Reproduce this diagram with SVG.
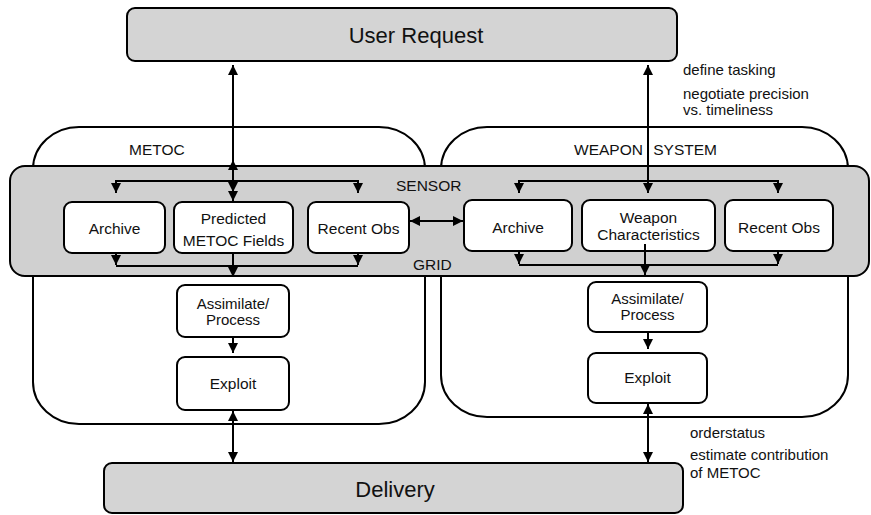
<svg xmlns="http://www.w3.org/2000/svg" width="871" height="515" viewBox="0 0 871 515">
<style>
  .big{fill:#d4d4d4;stroke:#000;stroke-width:2}
  .cont{fill:#fff;stroke:#000;stroke-width:2}
  .band{fill:#d0d0d0;stroke:#000;stroke-width:2}
  .box{fill:#fff;stroke:#000;stroke-width:2}
  text{font-family:"Liberation Sans",Arial,Helvetica,sans-serif;fill:#111}
  .t{font-size:15.5px;text-anchor:middle}
  .s{font-size:15px;text-anchor:middle}
  .l{font-size:15.5px}
  .a{font-size:15px}
  .h{font-size:22px;text-anchor:middle}
  .c line,.c polyline{stroke:#000;stroke-width:2;fill:none}
  .hd{fill:#000}
</style>
<defs>
  <marker id="ah" markerUnits="userSpaceOnUse" markerWidth="10" markerHeight="10" refX="10" refY="5" orient="auto-start-reverse" viewBox="0 0 10 10">
    <path d="M0,0 L10,5 L0,10 z" fill="#000"/>
  </marker>
</defs>

<g id="metoc-system">
  <rect class="cont" x="33" y="127" width="392" height="297" rx="46" ry="42"/>
</g>
<g id="weapon-system">
  <rect class="cont" x="441" y="127" width="407" height="290" rx="46" ry="42"/>
</g>
<g id="sensor-grid">
  <rect class="band" x="10" y="166" width="859" height="110" rx="15"/>
  <text class="l" x="396" y="191">SENSOR</text>
  <text class="l" x="413" y="270">GRID</text>
</g>
<g id="metoc-label"><text class="l" x="129" y="155">METOC</text></g>
<g id="weapon-label"><text class="l" x="574" y="155" word-spacing="6">WEAPON SYSTEM</text></g>

<g id="user-request">
  <rect class="big" x="127" y="8" width="550" height="53" rx="8"/>
  <text class="h" x="416" y="43">User Request</text>
</g>
<g id="delivery">
  <rect class="big" x="104" y="463" width="579" height="50" rx="8"/>
  <text class="h" x="395" y="497">Delivery</text>
</g>

<g id="metoc-archive">
  <rect class="box" x="64" y="202" width="101" height="51" rx="8"/>
  <text class="t" x="114.5" y="234">Archive</text>
</g>
<g id="metoc-predicted">
  <rect class="box" x="174" y="202" width="119" height="51" rx="8"/>
  <text class="t" x="233.5" y="224">Predicted</text>
  <text class="t" x="233.5" y="246">METOC Fields</text>
</g>
<g id="metoc-recent">
  <rect class="box" x="308" y="202" width="101" height="51" rx="8"/>
  <text class="t" x="358.5" y="234">Recent Obs</text>
</g>
<g id="weapon-archive">
  <rect class="box" x="464" y="200" width="108" height="51" rx="8"/>
  <text class="t" x="518" y="233">Archive</text>
</g>
<g id="weapon-characteristics">
  <rect class="box" x="582" y="200" width="133" height="51" rx="8"/>
  <text class="t" x="648.5" y="223">Weapon</text>
  <text class="t" x="648.5" y="240">Characteristics</text>
</g>
<g id="weapon-recent">
  <rect class="box" x="725" y="200" width="108" height="51" rx="8"/>
  <text class="t" x="779" y="233">Recent Obs</text>
</g>
<g id="metoc-assimilate">
  <rect class="box" x="177" y="285" width="112" height="52" rx="8"/>
  <text class="s" x="233" y="309">Assimilate/</text>
  <text class="s" x="233" y="325">Process</text>
</g>
<g id="metoc-exploit">
  <rect class="box" x="177" y="357" width="112" height="53" rx="8"/>
  <text class="t" x="233" y="389">Exploit</text>
</g>
<g id="weapon-assimilate">
  <rect class="box" x="588" y="282" width="119" height="50" rx="8"/>
  <text class="s" x="647.5" y="304">Assimilate/</text>
  <text class="s" x="647.5" y="320">Process</text>
</g>
<g id="weapon-exploit">
  <rect class="box" x="588" y="353" width="119" height="50" rx="8"/>
  <text class="t" x="647.5" y="383">Exploit</text>
</g>

<g id="annotations">
  <text class="a" x="683" y="75">define tasking</text>
  <text class="a" x="683" y="99">negotiate precision</text>
  <text class="a" x="683" y="115">vs. timeliness</text>
  <text class="a" x="690" y="438">orderstatus</text>
  <text class="a" x="690" y="460">estimate contribution</text>
  <text class="a" x="690" y="478">of METOC</text>
</g>

<g id="connectors" class="c">
  <line x1="233" y1="65" x2="233" y2="201" marker-start="url(#ah)" marker-end="url(#ah)"/>
  <path class="hd" d="M228,170 L233,160 L238,170 z"/>
  <path class="hd" d="M228,182 L233,192 L238,182 z"/>
  <polyline points="116,193 116,181 358,181 358,193" marker-start="url(#ah)" marker-end="url(#ah)"/>
  <line x1="116" y1="253" x2="116" y2="265" marker-end="url(#ah)"/>
  <line x1="358" y1="253" x2="358" y2="265" marker-end="url(#ah)"/>
  <line x1="116" y1="266" x2="358" y2="266"/>
  <line x1="233" y1="253" x2="233" y2="277" marker-end="url(#ah)"/>
  <line x1="233" y1="337" x2="233" y2="353" marker-end="url(#ah)"/>
  <line x1="233" y1="411" x2="233" y2="462" marker-start="url(#ah)" marker-end="url(#ah)"/>
  <line x1="410" y1="221" x2="463" y2="221" marker-start="url(#ah)" marker-end="url(#ah)"/>
  <line x1="648" y1="65" x2="648" y2="193" marker-start="url(#ah)" marker-end="url(#ah)"/>
  <polyline points="519,193 519,181 778,181 778,193" marker-start="url(#ah)" marker-end="url(#ah)"/>
  <line x1="519" y1="251" x2="519" y2="264" marker-end="url(#ah)"/>
  <line x1="778" y1="251" x2="778" y2="264" marker-end="url(#ah)"/>
  <line x1="519" y1="265" x2="778" y2="265"/>
  <line x1="645" y1="244" x2="645" y2="275" marker-end="url(#ah)"/>
  <line x1="648" y1="332" x2="648" y2="349" marker-end="url(#ah)"/>
  <line x1="648" y1="404" x2="648" y2="462" marker-start="url(#ah)" marker-end="url(#ah)"/>
</g>
</svg>
